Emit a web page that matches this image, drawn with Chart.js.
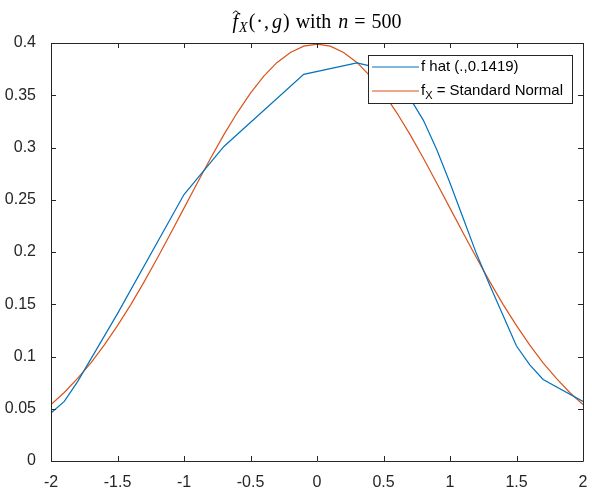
<!DOCTYPE html>
<html>
<head>
<meta charset="utf-8">
<script src="https://cdn.jsdelivr.net/npm/chart.js@4.4.1/dist/chart.umd.min.js"></script>
<style>
  html, body { margin: 0; padding: 0; background: #fff; }
  canvas { display: block; }
</style>
</head>
<body>
<canvas id="myChart" width="592" height="490"></canvas>
<script>
// kernel estimate f hat (.,0.1419) at its kinks
const fhatX = [-2, -1.9, -1.8, -1.5, -1.0, -0.7, -0.1, 0.3, 0.5, 0.7, 0.8, 0.9, 1.0, 1.1, 1.2, 1.3, 1.4, 1.5, 1.6, 1.7, 2.0];
const fhatY = [0.046, 0.057, 0.076, 0.141, 0.255, 0.301, 0.370, 0.381, 0.375, 0.347, 0.326, 0.298, 0.266, 0.232, 0.198, 0.168, 0.139, 0.110, 0.092, 0.078, 0.057];

// standard normal density, step 0.1
const normX = [-2, -1.9, -1.8, -1.7, -1.6, -1.5, -1.4, -1.3, -1.2, -1.1, -1, -0.9, -0.8, -0.7, -0.6, -0.5, -0.4, -0.3, -0.2, -0.1,
  0, 0.1, 0.2, 0.3, 0.4, 0.5, 0.6, 0.7, 0.8, 0.9, 1, 1.1, 1.2, 1.3, 1.4, 1.5, 1.6, 1.7, 1.8, 1.9, 2];
const normY = [0.0540, 0.0656, 0.0790, 0.0940, 0.1109, 0.1295, 0.1497, 0.1714, 0.1942, 0.2179, 0.2420, 0.2661, 0.2897, 0.3123, 0.3332, 0.3521, 0.3683, 0.3814, 0.3910, 0.3970,
  0.3989, 0.3970, 0.3910, 0.3814, 0.3683, 0.3521, 0.3332, 0.3123, 0.2897, 0.2661, 0.2420, 0.2179, 0.1942, 0.1714, 0.1497, 0.1295, 0.1109, 0.0940, 0.0790, 0.0656, 0.0540];

const xTicks = [-2, -1.5, -1, -0.5, 0, 0.5, 1, 1.5, 2];
const yTicks = [0, 0.05, 0.1, 0.15, 0.2, 0.25, 0.3, 0.35, 0.4];

const BLUE = '#0072BD';
const ORANGE = '#D95319';
const AXIS = '#262626';
const SANS = '"Liberation Sans", Arial, Helvetica, sans-serif';
const SERIF = '"Liberation Serif", "DejaVu Serif", serif';

const toPoints = (xs, ys) => xs.map((x, i) => ({ x: x, y: ys[i] }));

// box, inward ticks on all four sides
const matlabAxes = {
  id: 'matlabAxes',
  afterDatasetsDraw(chart) {
    const ctx = chart.ctx;
    const a = chart.chartArea;
    const xs = chart.scales.x, ys = chart.scales.y;
    ctx.save();
    ctx.strokeStyle = AXIS;
    ctx.lineWidth = 1;
    ctx.beginPath();
    ctx.rect(Math.round(a.left) + 0.5, Math.round(a.top) + 0.5,
      Math.round(a.right - a.left), Math.round(a.bottom - a.top));
    ctx.stroke();
    ctx.beginPath();
    xTicks.forEach(v => {
      const p = Math.round(xs.getPixelForValue(v)) + 0.5;
      ctx.moveTo(p, a.bottom); ctx.lineTo(p, a.bottom - 5);
      ctx.moveTo(p, a.top); ctx.lineTo(p, a.top + 5);
    });
    yTicks.forEach(v => {
      const p = Math.round(ys.getPixelForValue(v)) + 0.5;
      ctx.moveTo(a.left, p); ctx.lineTo(a.left + 5, p);
      ctx.moveTo(a.right, p); ctx.lineTo(a.right - 5, p);
    });
    ctx.stroke();
    ctx.restore();
  }
};

// title with hat, subscripts and italics, then the legend box
const mathText = {
  id: 'mathText',
  afterDraw(chart) {
    const ctx = chart.ctx;
    const a = chart.chartArea;
    ctx.save();
    ctx.fillStyle = '#000';
    ctx.textBaseline = 'alphabetic';

    const big = 20, small = 14;
    const rm = big + 'px ' + SERIF, it = 'italic ' + big + 'px ' + SERIF;
    const parts = [
      { t: 'f', f: it, dy: 0, hat: true, gap: 1 },
      { t: 'X', f: 'italic ' + small + 'px ' + SERIF, dy: 4, gap: 1 },
      { t: '(', f: rm, dy: 0, gap: 1 },
      { t: '\u00B7', f: rm, dy: 0, gap: 1 },
      { t: ',', f: rm, dy: 0, gap: 3 },
      { t: 'g', f: it, dy: 0, gap: 1 },
      { t: ')', f: rm, dy: 0, gap: 6 },
      { t: 'with', f: rm, dy: 0, gap: 7 },
      { t: 'n', f: it, dy: 0, gap: 6 },
      { t: '=', f: rm, dy: 0, gap: 6 },
      { t: '500', f: rm, dy: 0, gap: 0 }
    ];
    let total = 0;
    parts.forEach(p => { ctx.font = p.f; p.w = ctx.measureText(p.t).width; total += p.w + p.gap; });
    let x = (a.left + a.right) / 2 - total / 2;
    const base = 28;
    parts.forEach(p => {
      ctx.font = p.f;
      ctx.fillText(p.t, x, base + p.dy);
      if (p.hat) {
        const cx = x + p.w * 0.6, cy = base - big * 0.86;
        ctx.strokeStyle = '#000';
        ctx.lineWidth = 1;
        ctx.beginPath();
        ctx.moveTo(cx - 3, cy + 2.5); ctx.lineTo(cx, cy); ctx.lineTo(cx + 3, cy + 2.5);
        ctx.stroke();
      }
      x += p.w + p.gap;
    });

    // legend
    const lx = 368, ly = 55, lw = 204, lh = 48;
    ctx.fillStyle = '#fff';
    ctx.fillRect(lx, ly, lw, lh);
    ctx.strokeStyle = AXIS;
    ctx.lineWidth = 1;
    ctx.strokeRect(lx + 0.5, ly + 0.5, lw, lh);

    const rows = [
      { color: BLUE, y: 67, label: chart.data.datasets[0].label },
      { color: ORANGE, y: 91, label: chart.data.datasets[1].label }
    ];
    rows.forEach(r => {
      ctx.strokeStyle = r.color;
      ctx.lineWidth = 1.2;
      ctx.beginPath();
      ctx.moveTo(372, r.y); ctx.lineTo(419, r.y);
      ctx.stroke();
    });
    ctx.fillStyle = '#000';
    ctx.textBaseline = 'middle';
    ctx.font = '15px ' + SANS;
    ctx.fillText(rows[0].label, 421, rows[0].y);
    // f_X = Standard Normal
    let tx = 421;
    ctx.fillText('f', tx, rows[1].y);
    tx += ctx.measureText('f').width;
    ctx.font = '11px ' + SANS;
    ctx.fillText('X', tx, rows[1].y + 5);
    tx += ctx.measureText('X').width;
    ctx.font = '15px ' + SANS;
    ctx.fillText(' = Standard Normal', tx, rows[1].y);
    ctx.restore();
  }
};

new Chart(document.getElementById('myChart'), {
  type: 'line',
  data: {
    datasets: [
      {
        label: 'f hat (.,0.1419)',
        data: toPoints(fhatX, fhatY),
        borderColor: BLUE,
        borderWidth: 1.2,
        pointRadius: 0,
        tension: 0,
        fill: false
      },
      {
        label: 'f_X = Standard Normal',
        data: toPoints(normX, normY),
        borderColor: ORANGE,
        borderWidth: 1.2,
        pointRadius: 0,
        tension: 0,
        fill: false
      }
    ]
  },
  options: {
    responsive: false,
    animation: false,
    devicePixelRatio: 1,
    layout: { padding: { left: 0, top: 43, right: 9, bottom: 0 } },
    plugins: {
      legend: { display: false },
      title: { display: false },
      tooltip: { enabled: false }
    },
    scales: {
      x: {
        type: 'linear',
        min: -2,
        max: 2,
        afterBuildTicks: s => { s.ticks = xTicks.map(v => ({ value: v })); },
        afterFit: s => { s.height = 29; },
        grid: { display: false },
        border: { display: false },
        ticks: {
          color: AXIS,
          font: { family: SANS, size: 16 },
          padding: 4,
          maxRotation: 0,
          callback: v => String(v)
        }
      },
      y: {
        type: 'linear',
        min: 0,
        max: 0.4,
        afterBuildTicks: s => { s.ticks = yTicks.map(v => ({ value: v })); },
        afterFit: s => { s.width = 51; },
        grid: { display: false },
        border: { display: false },
        ticks: {
          color: AXIS,
          font: { family: SANS, size: 16 },
          padding: 7,
          callback: v => String(Number(v.toFixed(2)))
        }
      }
    }
  },
  plugins: [matlabAxes, mathText]
});
</script>
</body>
</html>
